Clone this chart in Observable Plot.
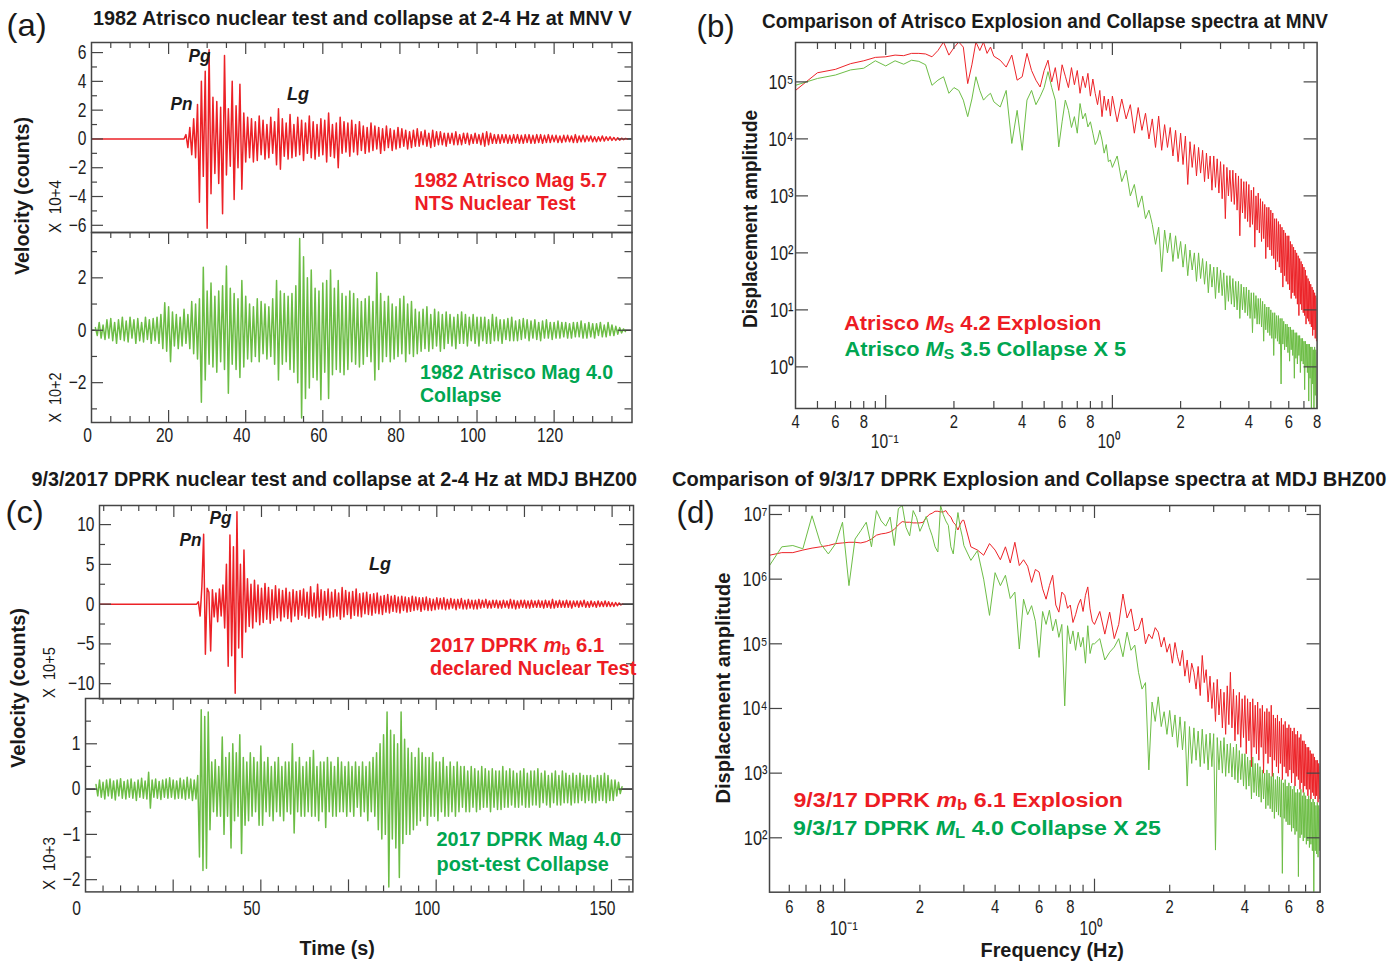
<!DOCTYPE html>
<html><head><meta charset="utf-8">
<script src="https://cdn.jsdelivr.net/npm/d3@7"></script>
<script src="https://cdn.jsdelivr.net/npm/@observablehq/plot@0.6"></script>
<style>
body{margin:0;background:#fff;}
#fig{position:relative;width:1399px;height:964px;overflow:hidden;background:#fff;}
#fig svg{position:absolute;overflow:visible;background:transparent;}
.t{position:absolute;white-space:nowrap;line-height:1;}
.t sub{font-size:0.72em;vertical-align:-0.2em;line-height:0;font-style:normal;}
</style></head><body><div id="fig"></div><script>
// ---------------- DATA ----------------
const waveDt = 0.5;
// (a) 1982 Atrisco explosion, MNV V, x10^4 counts, starts at onset
const aExpT0 = 24.5;
const aExpV = [0.3,-0.6,0.8,-1.1,1.4,-1.3,2.4,-4.4,4.0,-2.6,
4.7,-6.2,6.2,-3.8,2.9,-2.4,2.6,-3.1,2.2,-5.2,
5.8,-2.5,2.1,-1.9,4.0,-4.2,2.3,-2.0,3.8,-3.5,
1.8,-1.6,1.5,-1.3,1.4,-1.6,1.2,-1.5,1.6,-1.1,
1.3,-1.4,1.0,-1.3,1.5,-1.0,1.2,-1.8,2.1,-2.1,
1.4,-1.2,1.1,-1.4,1.7,-1.3,1.0,-1.2,1.5,-1.1,
1.3,-1.5,1.1,-1.0,1.6,-1.3,1.2,-1.4,1.0,-1.2,
1.4,-1.1,1.3,-1.6,1.8,-1.2,1.0,-1.3,1.1,-2.0,
1.5,-1.0,1.2,-0.9,1.1,-1.2,1.3,-0.9,1.0,-1.1,
1.2,-0.8,0.9,-1.0,0.8,-0.9,1.1,-0.8,0.9,-0.7,
0.8,-1.0,0.7,-0.8,0.9,-0.6,0.7,-0.8,0.6,-0.7,
0.8,-0.6,0.7,-0.5,0.6,-0.7,0.5,-0.6,0.6,-0.5,
0.7,-0.5,0.5,-0.4,0.6,-0.5,0.4,-0.6,0.6,-0.5,
0.5,-0.4,0.5,-0.4,0.4,-0.5,0.4,-0.3,0.4,-0.4,
0.5,-0.4,0.3,-0.4,0.4,-0.3,0.4,-0.4,0.3,-0.3,
0.4,-0.3,0.3,-0.4,0.4,-0.5,0.5,-0.4,0.4,-0.3,
0.3,-0.3,0.3,-0.3,0.3,-0.25,0.3,-0.3,0.25,-0.3,
0.3,-0.25,0.3,-0.3,0.25,-0.3,0.3,-0.25,0.3,-0.3,
0.25,-0.3,0.3,-0.25,0.3,-0.3,0.25,-0.25,0.3,-0.25,
0.25,-0.2,0.25,-0.25,0.2,-0.25,0.25,-0.2,0.25,-0.2,
0.2,-0.25,0.3,-0.25,0.2,-0.2,0.25,-0.2,0.2,-0.15,
0.2,-0.2,0.15,-0.2,0.15,-0.15,0.2,-0.15,0.15,-0.1,
0.15,-0.1,0.1,-0.1,0.08,-0.08,0.05,-0.05,0.03,0];
// (a) 1982 Atrisco collapse, x10^2 counts
const aColT0 = 1.0;
const aColV = [0.1,-0.2,0.3,-0.3,0.2,-0.35,0.4,-0.3,0.45,-0.4,
0.3,-0.5,0.4,-0.35,0.5,-0.4,0.35,-0.45,0.5,-0.3,
0.4,-0.5,0.45,-0.4,0.3,-0.45,0.5,-0.35,0.4,-0.5,
0.45,-0.4,0.5,-0.5,0.6,-0.7,1.05,-0.8,0.9,-1.2,
0.7,-0.6,0.6,-0.7,0.5,-0.6,0.8,-0.5,0.6,-0.7,
1.1,-0.9,1.0,-1.1,1.2,-2.75,2.4,-1.9,1.5,-1.3,
1.8,-1.4,1.3,-1.6,1.5,-1.2,1.7,-1.5,2.45,-2.4,
1.6,-1.3,1.4,-1.5,1.2,-1.8,1.9,-1.4,1.3,-1.1,
1.0,-1.2,0.9,-1.0,1.2,-1.2,1.1,-0.9,1.0,-1.1,
0.9,-1.0,1.2,-1.3,1.9,-1.9,1.5,-1.3,1.4,-1.2,
1.3,-1.5,1.4,-1.6,1.7,-2.0,3.5,-3.35,2.8,-2.6,
2.0,-2.2,2.3,-1.8,1.6,-1.9,1.5,-2.65,1.8,-1.6,
1.9,-2.6,2.3,-1.7,1.6,-1.5,1.9,-1.6,1.4,-1.7,
1.3,-1.5,1.5,-1.2,1.4,-1.3,1.2,-1.4,1.1,-1.3,
1.2,-1.0,1.3,-1.2,1.1,-1.9,2.2,-1.5,1.4,-1.2,
1.1,-1.0,1.3,-1.2,1.0,-1.1,0.9,-1.0,1.2,-0.9,
1.3,-1.2,1.0,-0.9,1.1,-1.0,0.8,-0.9,0.7,-0.8,
0.8,-0.7,0.9,-0.8,0.6,-0.7,0.8,-0.6,0.7,-0.8,
0.6,-0.7,0.7,-0.5,0.6,-0.6,0.5,-0.7,0.6,-0.5,
0.7,-0.5,0.6,-0.6,0.5,-0.4,0.6,-0.5,0.5,-0.6,
0.5,-0.4,0.5,-0.5,0.4,-0.5,0.6,-0.4,0.5,-0.4,
0.4,-0.5,0.4,-0.35,0.45,-0.4,0.5,-0.4,0.35,-0.4,
0.4,-0.35,0.45,-0.3,0.4,-0.4,0.35,-0.3,0.4,-0.35,
0.3,-0.4,0.35,-0.3,0.4,-0.3,0.3,-0.35,0.3,-0.3,
0.35,-0.3,0.3,-0.25,0.3,-0.3,0.25,-0.3,0.3,-0.25,
0.3,-0.25,0.35,-0.3,0.25,-0.3,0.3,-0.25,0.25,-0.3,
0.25,-0.2,0.3,-0.25,0.2,-0.25,0.3,-0.2,0.2,-0.2,
0.15,-0.15,0.1,-0.1,0.05,-0.05];
// (c) 2017 DPRK explosion, MDJ BHZ00, x10^5 counts
const cExpT0 = 32.0;
const cExpV = [0.3,-1.5,2.2,8.8,-6.3,2.0,1.5,-5.9,1.8,-1.6,
1.4,-2.2,1.9,-1.5,2.4,-3.0,5.0,-7.8,8.7,-6.5,
7.2,-11.2,11.6,-5.5,5.0,-6.7,6.8,-3.5,3.2,-2.8,
2.5,-3.0,3.0,-2.2,2.4,-2.6,2.0,-2.3,2.6,-1.9,
2.1,-2.4,1.8,-2.0,2.3,-1.7,1.9,-2.1,1.7,-1.6,
2.0,-1.8,1.5,-2.2,1.8,-1.5,1.6,-1.9,1.7,-1.4,
1.9,-1.6,1.5,-1.8,2.2,-1.5,1.4,-1.7,2.5,-1.6,
1.8,-2.0,1.6,-1.4,1.9,-1.7,1.5,-1.6,1.8,-1.5,
1.4,-1.9,2.1,-1.6,1.7,-1.3,1.5,-1.8,1.6,-1.4,
1.9,-1.5,1.3,-1.6,1.4,-1.2,1.5,-1.3,1.2,-1.4,
1.3,-1.1,1.4,-1.2,1.0,-1.3,1.1,-1.0,1.2,-1.1,
1.0,-0.9,1.1,-1.0,0.9,-1.1,1.0,-0.8,0.9,-1.0,
0.8,-0.9,1.0,-0.8,0.9,-0.7,0.8,-0.9,0.8,-0.7,
0.9,-0.8,0.7,-0.8,0.6,-0.7,0.8,-0.6,0.7,-0.6,
0.8,-0.7,0.6,-0.6,0.7,-0.5,0.6,-0.7,0.6,-0.5,
0.7,-0.6,0.5,-0.6,0.6,-0.5,0.5,-0.6,0.5,-0.6,
0.6,-0.5,0.5,-0.4,0.6,-0.5,0.4,-0.5,0.5,-0.4,
0.5,-0.5,0.4,-0.5,0.5,-0.4,0.4,-0.5,0.6,-0.5,
0.5,-0.6,0.4,-0.5,0.5,-0.4,0.5,-0.5,0.4,-0.5,
0.5,-0.4,0.4,-0.4,0.5,-0.4,0.4,-0.5,0.5,-0.4,
0.4,-0.5,0.6,-0.5,0.4,-0.4,0.5,-0.4,0.4,-0.4,
0.5,-0.4,0.4,-0.5,0.4,-0.3,0.4,-0.4,0.4,-0.3,
0.5,-0.4,0.3,-0.4,0.4,-0.3,0.3,-0.4,0.4,-0.3,
0.3,-0.3,0.4,-0.3,0.3,-0.3,0.2,-0.3,0.2,-0.2,
0.15,-0.1,0];
// (c) 2017 DPRK post-test collapse, x10^3 counts
const cColT0 = 3.0;
const cColV = [0.1,-0.15,0.2,-0.18,0.15,-0.22,0.2,-0.15,0.22,-0.2,
0.18,-0.24,0.2,-0.15,0.23,-0.2,0.17,-0.22,0.2,-0.18,
0.22,-0.2,0.15,-0.25,0.2,-0.18,0.24,-0.2,0.18,-0.22,
0.37,-0.42,0.2,-0.18,0.22,-0.2,0.17,-0.23,0.2,-0.18,
0.22,-0.2,0.25,-0.18,0.2,-0.22,0.18,-0.2,0.24,-0.2,
0.2,-0.23,0.26,-0.2,0.22,-0.25,0.2,-0.22,0.3,-1.5,
1.75,-1.8,1.6,-1.75,1.7,-0.9,0.6,-0.5,0.65,-0.6,
0.5,-0.6,1.15,-1.0,0.7,-0.6,0.8,-1.3,1.0,-0.7,
0.8,-0.6,1.2,-1.42,0.7,-0.8,0.6,-0.7,0.8,-0.6,
0.7,-0.5,0.6,-0.8,0.95,-0.8,0.6,-0.5,0.7,-0.6,
0.5,-0.7,0.6,-0.5,0.7,-0.6,0.5,-0.7,0.6,-0.5,
0.6,-0.55,1.0,-0.97,0.6,-0.5,0.7,-0.6,0.5,-0.6,
0.6,-0.5,0.7,-0.6,0.85,-0.6,0.5,-0.7,0.6,-0.5,
0.6,-0.85,0.7,-0.5,0.6,-0.6,0.5,-0.6,0.7,-0.5,
0.6,-0.5,0.5,-0.6,0.6,-0.5,0.5,-0.6,0.6,-0.4,
0.5,-0.6,0.6,-0.5,0.5,-0.7,0.6,-0.5,0.7,-0.6,
0.8,-0.9,1.0,-1.1,1.2,-1.0,1.7,-2.16,1.3,-1.1,
1.2,-1.3,1.0,-1.95,1.7,-1.2,1.1,-1.0,0.9,-1.0,
0.8,-0.9,0.7,-0.8,0.9,-0.7,0.8,-0.6,0.7,-0.8,
0.7,-0.6,0.8,-0.6,0.6,-0.7,0.6,-0.5,0.7,-0.6,
0.5,-0.6,0.6,-0.5,0.5,-0.6,0.6,-0.5,0.5,-0.4,
0.5,-0.5,0.4,-0.5,0.5,-0.4,0.45,-0.5,0.4,-0.45,
0.5,-0.4,0.45,-0.4,0.4,-0.5,0.45,-0.4,0.4,-0.45,
0.4,-0.45,0.5,-0.4,0.4,-0.4,0.45,-0.35,0.4,-0.4,
0.35,-0.4,0.4,-0.35,0.45,-0.4,0.35,-0.4,0.4,-0.35,
0.4,-0.35,0.45,-0.4,0.35,-0.3,0.4,-0.35,0.3,-0.4,
0.35,-0.3,0.4,-0.35,0.3,-0.35,0.4,-0.3,0.35,-0.3,
0.3,-0.35,0.35,-0.3,0.3,-0.3,0.35,-0.25,0.3,-0.3,
0.3,-0.25,0.3,-0.3,0.25,-0.3,0.3,-0.25,0.3,-0.25,
0.35,-0.3,0.3,-0.25,0.2,-0.25,0.2,-0.15,0.15,-0.1,
0.05];

// Spectra: log10(displacement amplitude) on three frequency segments (start Hz, step Hz)
const bSegStart = [0.04, 0.30, 1.00], bSegStep = [0.01, 0.02, 0.05];
const bRedA = [4.85,5.16,5.22,5.32,5.37,5.43,5.44,5.47,5.46,5.5,5.5,5.49,5.44,5.55,5.7,5.47,5.6,5.7,5.61,4.97,5.3,5.7,5.55,5.7,5.5,5.61];
const bRedB = [5.45,5.38,5.26,5.47,5.03,5.09,5.5,5.2,5.03,4.91,5.2,5.38,5.0,5.25,4.85,5.3,5.1,4.9,5.25,4.95,5.2,4.8,5.1,4.9,5.15,4.75,5.05,4.8,4.6,4.85,4.39,4.75,4.5,4.7,4.4];
const bRedC = [4.75,4.3,4.7,4.35,4.6,4.1,4.55,4.15,4.45,4.0,
4.35,3.85,4.4,3.8,4.25,3.85,4.2,3.7,4.15,3.6,
4.1,3.55,4.05,3.2,3.95,3.5,3.9,3.35,3.85,3.4,
3.8,3.25,3.75,3.3,3.7,3.1,3.7,3.15,3.65,3.05,
3.6,2.95,3.55,2.6,3.5,3.0,3.45,2.9,3.45,2.85,
3.4,2.75,3.35,2.3,3.3,2.7,3.25,2.6,3.25,2.55,
3.2,2.45,3.1,2.5,3.15,2.1,3.0,2.4,3.05,2.35,
2.95,2.2,2.9,2.25,2.85,1.9,2.8,2.1,2.8,2.05,
2.75,1.95,2.7,1.9,2.6,1.7,2.6,1.85,2.55,1.75,
2.5,1.65,2.45,1.4,2.4,1.6,2.35,1.5,2.3,1.45,
2.3,1.35,2.2,1.2,2.15,1.3,2.1,1.25,2.05,1.2,
2.0,1.1,1.95,0.9,1.9,1.1,1.85,1.0,1.8,0.95,
1.75,0.9,1.7,0.75,1.6,0.85,1.55,0.8,1.5,0.75,
1.45,0.7,1.4,0.55,1.35,0.65,1.3,0.5,1.25,0.45,
1.2];
const bGreenA = [4.94,5.06,5.12,5.21,5.24,5.37,5.28,5.37,5.31,5.38,5.36,5.3,4.94,5.03,5.09,4.8,4.9,4.85,4.68,4.39,4.7,5.09,4.85,4.68,4.75,4.8];
const bGreenB = [4.65,4.56,4.85,3.92,4.5,3.8,4.68,4.85,4.6,4.74,4.9,5.18,4.9,4.68,3.86,4.3,4.68,4.5,4.2,4.39,4.1,4.62,4.35,4.45,4.21,4.3,4.1,3.9,3.98,4.15,3.98,3.75,3.9,3.6,3.63];
const bGreenC = [3.5,3.7,3.25,3.45,3.0,3.2,2.8,3.0,2.6,2.75,
2.5,2.15,2.45,1.67,2.4,2.0,2.35,1.85,2.3,1.9,
2.2,1.75,2.15,1.6,2.05,1.7,2.0,1.5,2.0,1.55,
1.9,1.45,1.85,1.3,1.8,1.4,1.75,1.2,1.75,1.3,
1.7,1.25,1.65,1.0,1.6,1.15,1.6,1.1,1.55,1.05,
1.5,1.0,1.5,0.85,1.45,1.0,1.4,0.95,1.4,0.9,
1.35,0.85,1.3,0.6,1.3,0.85,1.25,0.75,1.2,0.75,
1.2,0.7,1.15,0.45,1.1,0.65,1.05,0.6,1.05,0.55,
1.0,0.5,0.95,0.2,0.95,0.5,0.9,0.45,0.9,0.4,
0.85,-0.3,0.85,0.4,0.8,0.3,0.75,0.35,0.75,0.25,
0.7,0.1,0.7,0.3,0.65,0.2,0.65,-0.2,0.6,0.15,
0.6,0.05,0.55,0.2,0.55,-0.1,0.5,0.1,0.5,0.05,
0.45,-0.4,0.45,0.0,0.4,-0.1,0.4,-0.6,0.4,-0.2,
0.35,-0.8,0.35,-0.3,0.3,-0.8,0.35,-0.5,0.3,-0.8,
0.25];
const dSegStart = [0.05, 0.30, 1.00], dSegStep = [0.006, 0.02, 0.05];
const dRedA = [6.37,6.41,6.41,6.45,6.48,6.5,6.52,6.55,6.56,6.57,6.57,6.56,6.58,6.62,6.68,6.7,6.71,6.73,6.77,6.84,6.89,6.88,6.88,6.87,6.87,6.87,6.88,6.95,7.0,7.02,7.05,7.05,7.04,7.04,7.06,7.0,6.96,6.88,6.84,6.76,6.85,6.91];
const dRedB = [6.91,6.5,6.45,6.37,6.55,6.45,6.3,6.5,6.25,6.57,6.21,6.3,6.2,5.95,6.15,6.11,5.85,5.69,5.9,6.06,5.6,5.49,5.8,5.75,5.55,5.6,5.33,5.45,5.6,5.69,5.5,5.75,5.88,5.54,5.35];
const dRedC = [5.3,5.5,5.15,5.49,5.08,5.3,5.77,5.4,5.54,5.2,
5.23,5.4,5.0,5.15,5.08,5.25,5.18,4.95,5.1,4.87,
5.0,4.7,5.02,4.8,4.66,4.9,4.5,4.75,4.4,4.7,
4.56,4.3,4.65,4.2,4.82,4.4,4.6,4.1,4.5,4.0,
4.4,3.8,4.45,3.9,4.3,3.7,4.25,3.6,4.35,3.75,
4.56,3.7,4.3,3.5,4.2,3.6,4.25,3.4,4.15,3.55,
4.2,3.3,4.15,3.5,4.1,3.1,4.15,3.4,4.05,3.3,
4.1,3.2,4.0,3.4,4.05,3.0,3.95,3.3,4.0,3.15,
3.95,3.25,4.05,2.95,3.9,3.2,3.85,3.1,3.9,3.0,
3.8,3.15,3.85,2.9,3.75,3.1,3.8,3.0,3.7,2.95,
3.75,3.05,3.7,2.85,3.65,3.0,3.7,2.8,3.6,2.95,
3.65,2.9,3.55,2.75,3.6,2.85,3.5,2.7,3.5,2.8,
3.45,2.75,3.4,2.65,3.4,2.75,3.35,2.6,3.3,2.7,
3.3,2.65,3.25,2.6,3.2,2.65,3.2,2.55,3.15,2.6,
3.1];
const dGreenA = [6.21,6.5,6.52,6.47,6.98,6.55,6.39,6.55,6.88,5.9,6.62,6.75,6.88,6.5,7.06,6.9,6.82,6.96,6.52,7.09,7.14,6.8,6.67,7.06,6.95,6.74,6.85,6.97,6.8,6.67,6.5,6.42,7.14,7.0,6.9,6.83,6.5,6.39,6.75,7.03,6.8,6.65];
const dGreenB = [6.52,6.29,6.44,6.0,5.44,6.1,5.9,6.06,5.7,5.8,4.92,5.69,5.45,5.59,5.35,4.79,5.5,5.3,5.52,5.2,5.38,5.1,5.3,4.04,5.28,5.0,5.2,4.9,5.18,4.95,5.1,4.7,5.28,4.85,5.0];
const dGreenC = [5.0,5.08,4.75,4.87,4.95,5.08,4.8,5.18,4.9,4.98,
4.56,4.3,4.4,3.05,4.1,3.8,4.18,3.72,3.95,3.6,
3.97,3.56,3.9,3.4,3.87,3.36,3.8,2.8,3.72,3.15,
3.7,3.2,3.65,3.1,3.68,3.15,3.6,3.05,3.62,3.1,
3.61,1.81,3.55,3.05,3.5,3.0,3.55,2.95,3.45,3.0,
3.46,2.94,3.4,2.9,3.45,2.85,3.35,2.9,3.3,2.8,
3.3,2.75,3.25,2.8,3.2,2.6,3.25,2.7,3.15,2.65,
3.15,2.63,3.1,2.55,3.05,2.6,3.0,2.45,3.05,2.5,
3.0,2.45,2.95,2.4,3.0,2.3,2.9,2.4,2.95,2.35,
2.94,2.32,2.9,1.45,2.85,2.3,2.9,2.25,2.8,2.2,
2.85,2.2,2.8,2.1,2.75,2.15,2.8,2.05,2.7,2.1,
2.75,1.4,2.7,2.0,2.75,2.05,2.65,1.95,2.7,2.0,
2.65,1.9,2.6,1.95,2.65,1.85,2.6,1.9,2.55,1.8,
2.6,1.1,2.55,1.8,2.5,1.75,2.55,1.7,2.5,1.8,
2.45];

// Tick labels
const aTimeLabels = [0, 20, 40, 60, 80, 100, 120];
const cTimeLabels = [0, 50, 100, 150];
const aExpYLabels = [-6, -4, -2, 0, 2, 4, 6];
const aColYLabels = [-2, 0, 2];
const cExpYLabels = [-10, -5, 0, 5, 10];
const cColYLabels = [-2, -1, 0, 1];
const bFreqTicks = [0.04, 0.06, 0.08, 0.2, 0.4, 0.6, 0.8, 2, 4, 6, 8];
const bFreqText = ["4", "6", "8", "2", "4", "6", "8", "2", "4", "6", "8"];
const dFreqTicks = [0.06, 0.08, 0.2, 0.4, 0.6, 0.8, 2, 4, 6, 8];
const dFreqText = ["6", "8", "2", "4", "6", "8", "2", "4", "6", "8"];
const decadeTicks = [0.1, 1];
const decadeText = ["10\u207B\u00B9", "10\u2070"];
const bAmpTicks = [1, 10, 100, 1e3, 1e4, 1e5];
const bAmpText = ["10\u2070", "10\u00B9", "10\u00B2", "10\u00B3", "10\u2074", "10\u2075"];
const dAmpTicks = [1e2, 1e3, 1e4, 1e5, 1e6, 1e7];
const dAmpText = ["10\u00B2", "10\u00B3", "10\u2074", "10\u2075", "10\u2076", "10\u2077"];

// ---------------- DRAWING ----------------
const RED = "#ec2227", GREEN = "#6cbd45", RED_TXT = "#ed1c24", GREEN_TXT = "#00a651";
const AX = "#454545";
const NARROW = '"Liberation Sans Narrow","Arial Narrow","Liberation Sans",Arial,sans-serif';
const WIDE = '"Liberation Sans",Arial,Helvetica,sans-serif';
const fig = document.getElementById("fig");
const fmt = d => (d < 0 ? "\u2212" : "") + Math.abs(d);

function wave(t0, vals, lead) {
  const rows = lead ? [{t: 0, v: 0}, {t: t0 - waveDt, v: 0}] : [];
  vals.forEach((v, i) => rows.push({t: t0 + i * waveDt, v}));
  return rows;
}
function spectrum(starts, steps, segs) {
  const rows = [];
  segs.forEach((vals, k) => vals.forEach((la, i) => rows.push({f: starts[k] + i * steps[k], a: Math.pow(10, la)})));
  return rows;
}
function tk(vals, side, len, pw, ph) {
  const base = {stroke: AX, strokeWidth: 1.2};
  if (side === "top") return Plot.tickX(vals, {...base, x: d => d, insetBottom: ph - len});
  if (side === "bottom") return Plot.tickX(vals, {...base, x: d => d, insetTop: ph - len});
  if (side === "left") return Plot.tickY(vals, {...base, y: d => d, insetRight: pw - len});
  return Plot.tickY(vals, {...base, y: d => d, insetLeft: pw - len});
}
// narrow the tick texts (condensed look of the original)
function condense(svg, k) {
  svg.querySelectorAll("text").forEach(t => {
    const L = t.getComputedTextLength();
    if (L > 0) { t.setAttribute("textLength", (L * k).toFixed(2)); t.setAttribute("lengthAdjust", "spacingAndGlyphs"); }
  });
}
function place(o, xOpts, yOpts, marksFn, hasX) {
  const pw = o.x1 - o.x0, ph = o.y1 - o.y0;
  const ml = 60, mr = 12, mt = 10, mb = 50;
  const svg = Plot.plot({
    width: pw + ml + mr, height: ph + mt + mb,
    marginLeft: ml, marginRight: mr, marginTop: mt, marginBottom: mb,
    x: {...xOpts, label: null, ...(hasX ? {} : {axis: null})},
    y: {...yOpts, label: null, axis: null},
    style: {fontFamily: WIDE, fontSize: "20px", color: "#1e1e1e", background: "transparent", overflow: "visible"},
    marks: marksFn(pw, ph)
  });
  svg.style.left = (o.x0 - ml) + "px";
  svg.style.top = (o.y0 - mt) + "px";
  fig.appendChild(svg);
  condense(svg, 0.78);
}
function wavePanel(o) {
  const tEnd = o.t0 + (o.vals.length - 1) * waveDt;
  const zeroSegs = o.lead ? [{a: tEnd, b: o.xDomain[1]}] : [{a: o.xDomain[0], b: o.t0}, {a: tEnd, b: o.xDomain[1]}];
  place(o, {domain: o.xDomain}, {domain: o.yDomain}, (pw, ph) => [
    Plot.ruleY(zeroSegs, {y: 0, x1: "a", x2: "b", stroke: "#1a1a1a", strokeWidth: 1.3}),
    Plot.line(wave(o.t0, o.vals, o.lead), {x: "t", y: "v", stroke: o.color, strokeWidth: 1.5, clip: true}),
    tk(o.xMinor, "top", 6, pw, ph), tk(o.xMajor, "top", 12, pw, ph),
    o.xLabels ? tk(o.xMinor, "bottom", 6, pw, ph) : null,
    o.xLabels ? tk(o.xMajor, "bottom", 12, pw, ph) : null,
    tk(o.yMinor, "left", 6, pw, ph), tk(o.yLabels, "left", 12, pw, ph),
    tk(o.yMinor, "right", 7, pw, ph), tk(o.yLabels, "right", 14, pw, ph),
    Plot.axisY({ticks: o.yLabels, tickFormat: fmt, tickSize: 0, tickPadding: 5, fontSize: 20, label: null}),
    o.xLabels ? Plot.axisX({ticks: o.xLabels, tickFormat: fmt, tickSize: 0, tickPadding: o.xPad, dx: o.xDx, fontSize: 20, label: null}) : null,
    Plot.frame({stroke: AX, strokeWidth: 1.5})
  ], !!o.xLabels);
}
function specPanel(o) {
  place(o, {type: "log", domain: o.xDomain, axis: null}, {type: "log", domain: o.yDomain}, (pw, ph) => [
    Plot.line(o.red, {x: "f", y: "a", stroke: RED, strokeWidth: 1, clip: true}),
    Plot.line(o.green, {x: "f", y: "a", stroke: GREEN, strokeWidth: 1, clip: true}),
    tk(o.xMinor, "top", 7, pw, ph), tk(decadeTicks, "top", 13, pw, ph),
    tk(o.xMinor, "bottom", 7, pw, ph), tk(decadeTicks, "bottom", 13, pw, ph),
    tk(o.yTicks, "left", 13, pw, ph), tk(o.yTicks, "right", 13, pw, ph),
    Plot.text(o.yTicks, {y: d => d, frameAnchor: "left", lineAnchor: "middle", textAnchor: "end", dx: -2,
      text: d => o.yText[o.yTicks.indexOf(d)], fontSize: 21}),
    Plot.text(o.xTicks, {x: d => d, frameAnchor: "bottom", lineAnchor: "middle", dy: o.row1,
      text: d => o.xText[o.xTicks.indexOf(d)], fontSize: 19}),
    Plot.text(decadeTicks, {x: d => d, frameAnchor: "bottom", lineAnchor: "middle", textAnchor: "start", dx: -15, dy: o.row2,
      text: d => decadeText[decadeTicks.indexOf(d)], fontSize: 20}),
    Plot.frame({stroke: AX, strokeWidth: 1.5})
  ], false);
}

const aMajor = d3.range(20, 140, 20), aMinor = d3.range(5, 140, 5).filter(d => d % 20);
const cMajor = d3.range(25, 156, 25), cMinor = d3.range(5, 156, 5).filter(d => d % 25);
const bMinor = [0.05,0.06,0.07,0.08,0.09,0.2,0.3,0.4,0.5,0.6,0.7,0.8,0.9,2,3,4,5,6,7];
const dMinor = [0.06,0.07,0.08,0.09,0.2,0.3,0.4,0.5,0.6,0.7,0.8,0.9,2,3,4,5,6,7];

wavePanel({x0: 91.2, x1: 631.7, y0: 42.3, y1: 232.3, xDomain: [0, 140.2], yDomain: [-6.5, 6.7],
  t0: aExpT0, vals: aExpV, lead: true, color: RED, xMajor: aMajor, xMinor: aMinor,
  yLabels: aExpYLabels, yMinor: [-5, -3, -1, 1, 3, 5]});
wavePanel({x0: 91.2, x1: 631.7, y0: 232.3, y1: 422.3, xDomain: [0, 140.2], yDomain: [-3.52, 3.73],
  t0: aColT0, vals: aColV, lead: false, color: GREEN, xMajor: aMajor, xMinor: aMinor,
  yLabels: aColYLabels, yMinor: [-3, -1, 1, 3], xLabels: aTimeLabels, xPad: 5, xDx: -4});
wavePanel({x0: 98.8, x1: 632.8, y0: 505, y1: 698.3, xDomain: [3.8, 156.1], yDomain: [-11.9, 12.4],
  t0: cExpT0, vals: cExpV, lead: true, color: RED, xMajor: cMajor, xMinor: cMinor,
  yLabels: cExpYLabels, yMinor: [-7.5, -2.5, 2.5, 7.5]});
wavePanel({x0: 85.4, x1: 632.8, y0: 698.3, y1: 891.7, xDomain: [0, 156.1], yDomain: [-2.27, 2.0],
  t0: cColT0, vals: cColV, lead: false, color: GREEN, xMajor: cMajor, xMinor: cMinor,
  yLabels: cColYLabels, yMinor: [-1.5, -0.5, 0.5, 1.5], xLabels: cTimeLabels, xPad: 9, xDx: -9});
specPanel({x0: 795, x1: 1316.6, y0: 42.3, y1: 408.3, xDomain: [0.04, 8], yDomain: [Math.pow(10, -0.73), Math.pow(10, 5.691)],
  red: spectrum(bSegStart, bSegStep, [bRedA, bRedB, bRedC]), green: spectrum(bSegStart, bSegStep, [bGreenA, bGreenB, bGreenC]),
  xMinor: bMinor, xTicks: bFreqTicks, xText: bFreqText, yTicks: bAmpTicks, yText: bAmpText, row1: 13, row2: 33});
specPanel({x0: 769.1, x1: 1319.7, y0: 505, y1: 891.7, xDomain: [0.05, 8], yDomain: [Math.pow(10, 1.159), Math.pow(10, 7.139)],
  red: spectrum(dSegStart, dSegStep, [dRedA, dRedB, dRedC]), green: spectrum(dSegStart, dSegStep, [dGreenA, dGreenB, dGreenC]),
  xMinor: dMinor, xTicks: dFreqTicks, xText: dFreqText, yTicks: dAmpTicks, yText: dAmpText, row1: 15, row2: 36});

// ---------------- TEXT ----------------
function addText(html, o) {
  const el = document.createElement("div");
  el.className = "t";
  el.innerHTML = html;
  el.style.fontFamily = o.family || NARROW;
  el.style.fontSize = (o.size || 19) + "px";
  el.style.fontWeight = o.weight || "bold";
  el.style.fontStyle = o.italic ? "italic" : "normal";
  el.style.color = o.color || "#1a1a1a";
  fig.appendChild(el);
  const bw = el.offsetWidth, bh = el.offsetHeight;
  const cx = o.rot ? o.cx : o.x + o.w / 2;
  const len = o.rot ? o.len : o.w;
  const s = len ? len / bw : 1;
  el.style.left = (cx - bw / 2) + "px";
  el.style.top = (o.cy - bh / 2) + "px";
  el.style.transformOrigin = "50% 50%";
  el.style.transform = (o.rot ? "rotate(-90deg) " : "") + "scaleX(" + s + ")";
}
// titles
addText("1982 Atrisco nuclear test and collapse at 2-4 Hz at MNV V", {x: 93, w: 539, cy: 18, size: 20});
addText("Comparison of Atrisco Explosion and Collapse spectra at MNV", {x: 762, w: 566, cy: 21, size: 20});
addText("9/3/2017 DPRK nuclear test and collapse at 2-4 Hz at MDJ BHZ00", {x: 31, w: 605, cy: 479, size: 20});
addText("Comparison of 9/3/17 DPRK Explosion and Collapse spectra at MDJ BHZ00", {x: 672, w: 714, cy: 479, size: 20});
// panel letters
addText("(a)", {x: 6, w: 40, cy: 25, size: 32, weight: "normal"});
addText("(b)", {x: 696, w: 38, cy: 26, size: 32, weight: "normal"});
addText("(c)", {x: 5, w: 38, cy: 512, size: 32, weight: "normal"});
addText("(d)", {x: 676, w: 38, cy: 512, size: 32, weight: "normal"});
// axis titles
addText("Velocity (counts)", {rot: true, cx: 22, cy: 196, len: 158, size: 20, family: WIDE});
addText("Velocity (counts)", {rot: true, cx: 18, cy: 688, len: 160, size: 20, family: WIDE});
addText("Displacement amplitude", {rot: true, cx: 750, cy: 219, len: 218, size: 20, family: WIDE});
addText("Displacement amplitude", {rot: true, cx: 723, cy: 688, len: 231, size: 20, family: WIDE});
addText("Time (s)", {x: 299, w: 75, cy: 948, size: 20, family: WIDE});
addText("Frequency (Hz)", {x: 980, w: 143, cy: 950, size: 20, family: WIDE});
// amplitude multipliers
addText("X&nbsp; 10+4", {rot: true, cx: 55, cy: 206.5, len: 53, size: 17, weight: "normal"});
addText("X&nbsp; 10+2", {rot: true, cx: 55, cy: 397, len: 50, size: 17, weight: "normal"});
addText("X&nbsp; 10+5", {rot: true, cx: 49.5, cy: 672.5, len: 51, size: 17, weight: "normal"});
addText("X&nbsp; 10+3", {rot: true, cx: 49.5, cy: 863.5, len: 53, size: 17, weight: "normal"});
// phase labels
addText("Pg", {x: 188, w: 22, cy: 56, size: 18, italic: true});
addText("Pn", {x: 170, w: 22, cy: 104, size: 18, italic: true});
addText("Lg", {x: 287, w: 22, cy: 94, size: 18, italic: true});
addText("Pn", {x: 179, w: 22, cy: 540, size: 18, italic: true});
addText("Pg", {x: 209, w: 22, cy: 518, size: 18, italic: true});
addText("Lg", {x: 369, w: 22, cy: 564, size: 18, italic: true});
// legends
addText("1982 Atrisco Mag 5.7", {x: 414, w: 193, cy: 180, size: 20, color: RED_TXT});
addText("NTS Nuclear Test", {x: 414, w: 161, cy: 203, size: 20, color: RED_TXT});
addText("1982 Atrisco Mag 4.0", {x: 420, w: 193, cy: 372, size: 20, color: GREEN_TXT});
addText("Collapse", {x: 420, w: 81, cy: 395, size: 20, color: GREEN_TXT});
addText("2017 DPRK <i>m</i><sub>b</sub> 6.1", {x: 430, w: 174, cy: 645, size: 20, color: RED_TXT});
addText("declared Nuclear Test", {x: 430, w: 206, cy: 668, size: 20, color: RED_TXT});
addText("2017 DPRK Mag 4.0", {x: 436, w: 185, cy: 839, size: 20, color: GREEN_TXT});
addText("post-test Collapse", {x: 436, w: 172, cy: 864, size: 20, color: GREEN_TXT});
addText("Atrisco <i>M</i><sub>S</sub> 4.2 Explosion", {x: 844, w: 257, cy: 323, size: 20, color: RED_TXT});
addText("Atrisco <i>M</i><sub>S</sub> 3.5 Collapse X 5", {x: 844, w: 282, cy: 349, size: 20, color: GREEN_TXT});
addText("9/3/17 DPRK <i>m</i><sub>b</sub> 6.1 Explosion", {x: 793, w: 329, cy: 800, size: 20, color: RED_TXT});
addText("9/3/17 DPRK <i>M</i><sub>L</sub> 4.0 Collapse X 25", {x: 793, w: 368, cy: 828, size: 20, color: GREEN_TXT});
</script></body></html>
